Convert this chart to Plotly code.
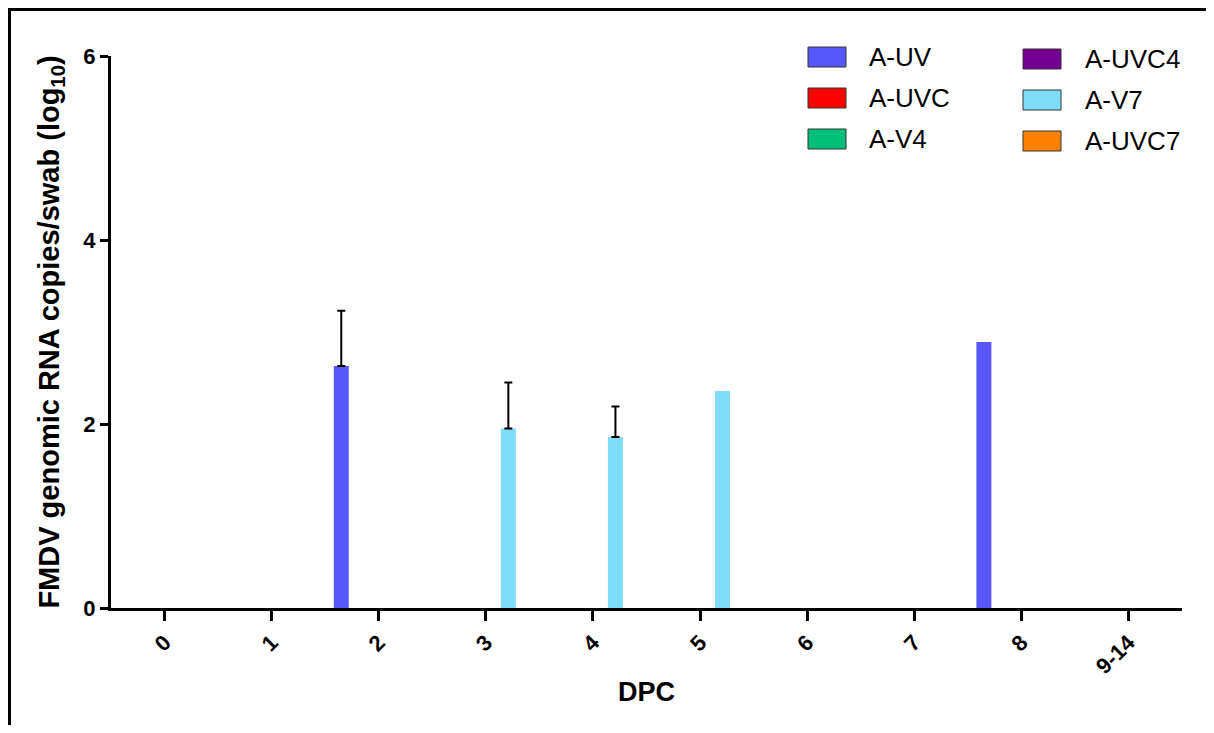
import numpy as np
import plotly.graph_objects as go

# ---- data ----
categories = ["0", "1", "2", "3", "4", "5", "6", "7", "8", "9-14"]
series_names = ["A-UV", "A-UVC", "A-V4", "A-UVC4", "A-V7", "A-UVC7"]
series_colors = ["#5858FA", "#FF0000", "#00BF78", "#720090", "#80DDF9", "#FF8000"]

a_uv = [0, 0, 2.63, 0, 0, 0, 0, 0, 2.89, 0]
a_uvc = [0, 0, 0, 0, 0, 0, 0, 0, 0, 0]
a_v4 = [0, 0, 0, 0, 0, 0, 0, 0, 0, 0]
a_uvc4 = [0, 0, 0, 0, 0, 0, 0, 0, 0, 0]
a_v7 = [0, 0, 0, 1.95, 1.86, 2.36, 0, 0, 0, 0]
a_uvc7 = [0, 0, 0, 0, 0, 0, 0, 0, 0, 0]

# upper error (SD); None = no error bar shown
a_uv_err = [None, None, 0.60, None, None, None, None, None, None, None]
a_v7_err = [None, None, None, 0.50, 0.33, None, None, None, None, None]
no_err = [None] * len(categories)

series_values = [a_uv, a_uvc, a_v4, a_uvc4, a_v7, a_uvc7]
series_errors = [a_uv_err, no_err, no_err, no_err, a_v7_err, no_err]

FONT = "Liberation Sans, Arial, sans-serif"

# page is drawn with an 8px body margin; figure sized to fit the window
OFF = 8
W, H = 1198, 717
L, R, T, B = 103, 24, 48, 117
PW, PH = W - L - R, H - T - B


def px_x(page_px):
    return (page_px - OFF - L) / PW


def px_y(page_py):
    return (H - B - (page_py - OFF)) / PH


fig = go.Figure()
for name, color, vals, errs in zip(series_names, series_colors, series_values, series_errors):
    has_err = any(e is not None for e in errs)
    up = np.array([np.nan if e is None else e for e in errs], dtype=float)
    down = np.array([np.nan if e is None else 0.0 for e in errs], dtype=float)
    fig.add_trace(go.Bar(
        x=categories, y=vals, name=name,
        marker=dict(color=color, line=dict(width=0)),
        error_y=dict(type="data", array=up, arrayminus=down,
                     symmetric=False, color="black", thickness=2, width=4, visible=has_err),
        showlegend=False,
    ))

shapes = []
annotations = []
# manual legend (two columns)
col_sw_x = [808, 1023]
col_txt_x = [867, 1083]
row_y = [[57, 98, 139], [59, 100, 141]]
for i, (name, color) in enumerate(zip(series_names, series_colors)):
    c, r = i // 3, i % 3
    cy = row_y[c][r]
    shapes.append(dict(type="rect", xref="paper", yref="paper",
                       x0=px_x(col_sw_x[c]), x1=px_x(col_sw_x[c] + 38),
                       y0=px_y(cy - 10), y1=px_y(cy + 10),
                       fillcolor=color, line=dict(color="#333333", width=1)))
    annotations.append(dict(xref="paper", yref="paper", x=px_x(col_txt_x[c]), y=px_y(cy),
                            xanchor="left", yanchor="middle", showarrow=False, text=name,
                            font=dict(family=FONT, size=26, color="black")))

# figure frame (top and left lines)
shapes.append(dict(type="line", xref="paper", yref="paper",
                   x0=px_x(OFF - 2), x1=px_x(1230), y0=px_y(OFF + 1.5), y1=px_y(OFF + 1.5),
                   line=dict(color="black", width=3)))
shapes.append(dict(type="line", xref="paper", yref="paper",
                   x0=px_x(OFF + 1.5), x1=px_x(OFF + 1.5), y0=px_y(OFF), y1=px_y(760),
                   line=dict(color="black", width=3)))

fig.update_layout(
    width=W, height=H,
    margin=dict(l=L, r=R, t=T, b=B),
    paper_bgcolor="white", plot_bgcolor="white",
    barmode="group", bargap=0.16, bargroupgap=0,
    font=dict(family=FONT, color="black"),
    shapes=shapes, annotations=annotations,
    xaxis=dict(
        type="category", categoryorder="array", categoryarray=categories,
        showline=True, linecolor="black", linewidth=3,
        ticks="outside", ticklen=10, tickwidth=3, tickcolor="black",
        tickangle=-45, ticklabelstandoff=0,
        tickfont=dict(family=FONT, size=22, color="black", weight="bold"),
        showgrid=False, zeroline=False,
        title=dict(text="<b>DPC</b>", font=dict(family=FONT, size=27, color="black"), standoff=5),
    ),
    yaxis=dict(
        range=[0, 6], tickvals=[0, 2, 4, 6],
        showline=True, linecolor="black", linewidth=3,
        ticks="outside", ticklen=8, tickwidth=3, tickcolor="black",
        ticklabelstandoff=0,
        tickfont=dict(family=FONT, size=22, color="black", weight="bold"),
        showgrid=False, zeroline=False,
        title=dict(text="<b>FMDV genomic RNA copies/swab (log<sub>10</sub>)</b>",
                   font=dict(family=FONT, size=29, color="black"), standoff=16),
    ),
)

fig.write_html("out.html")
